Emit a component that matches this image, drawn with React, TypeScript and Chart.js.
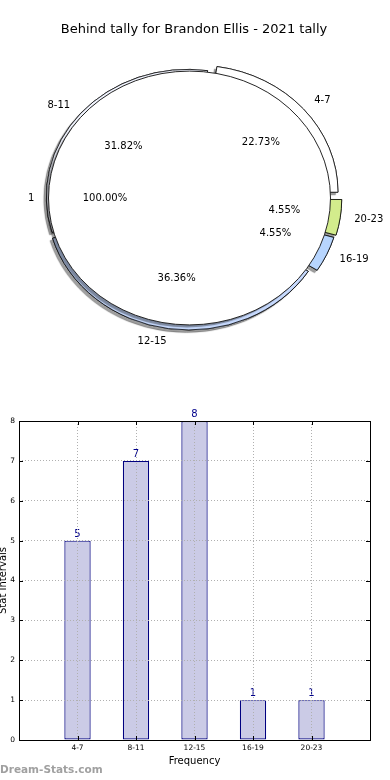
import React, { useEffect, useRef } from 'react';
import { Chart, registerables } from 'chart.js';

Chart.register(...registerables);

// ---- data ----
const chartTitle = 'Behind tally for Brandon Ellis - 2021 tally';
const categories = ['4-7', '8-11', '12-15', '16-19', '20-23'];
const frequencies = [5, 7, 8, 1, 1];
const overallLabels = ['1'];
const overallValues = [1];
const yTickValues = [0, 1, 2, 3, 4, 5, 6, 7, 8];
const xTickValues = [-1, 0, 1, 2, 3, 4, 5];

// ---- styles ----
const FONT = "'DejaVu Sans', 'Liberation Sans', sans-serif";
const sliceColors = ['#ffffff', '#f2f5ff', '#c6d9fd', '#b7d5fe', '#d3ec8c'];
const explode = [0.07, 0.02, 0.04, 0.07, 0.08];
const PIE_R = 141;
const PIE_SY = 0.9;

// matplotlib draws counter-clockwise from 3 o'clock; Chart.js clockwise -> reverse
const pieLabels = [...categories].reverse();
const pieValues = [...frequencies].reverse();
const pieColors = [...sliceColors].reverse();
const pieExplode = [...explode].reverse();
const pieTotal = pieValues.reduce((a, b) => a + b, 0);

const makeEllipsePlugin = (outline: boolean) => ({
  id: 'ellipse',
  beforeDatasetsDraw(chart: any) {
    const ctx = chart.ctx;
    const arcs = chart.getDatasetMeta(0).data;
    const cx = arcs[0].x;
    const cy = arcs[0].y;
    ctx.save();
    ctx.translate(cx, cy);
    ctx.scale(1, PIE_SY);
    ctx.translate(-cx, -cy);
    ctx.save();
    ctx.shadowColor = 'rgba(0,0,0,0.38)';
    ctx.shadowOffsetX = -2.5;
    ctx.shadowOffsetY = 2.5;
    ctx.shadowBlur = 1;
    arcs.forEach((el: any) => el.draw(ctx));
    ctx.restore();
  },
  afterDatasetsDraw(chart: any) {
    const ctx = chart.ctx;
    if (outline) {
      chart.getDatasetMeta(0).data.forEach((el: any) => {
        ctx.beginPath();
        ctx.arc(el.x, el.y, el.outerRadius, 0, Math.PI * 2);
        ctx.lineWidth = 0.9;
        ctx.strokeStyle = '#000';
        ctx.stroke();
      });
    }
    ctx.restore();
  },
});

export default function App() {
  const pieBaseRef = useRef<HTMLCanvasElement>(null);
  const pieTopRef = useRef<HTMLCanvasElement>(null);
  const barRef = useRef<HTMLCanvasElement>(null);

  useEffect(() => {
    const piePadding = { top: 57, bottom: 61, left: 48, right: 59 };

    const base = new Chart(pieBaseRef.current!, {
      type: 'pie',
      data: {
        labels: pieLabels,
        datasets: [
          {
            data: pieValues,
            backgroundColor: pieColors,
            borderColor: '#000',
            borderWidth: 0.8,
            clip: false,
            offset: (c: any) => {
              const i = c.dataIndex;
              if (i === undefined) return 0;
              const circ = (2 * Math.PI * pieValues[i]) / pieTotal;
              const fix = 1 - Math.sin(Math.min(Math.PI, circ));
              return (4 * pieExplode[i] * PIE_R) / (1 + fix);
            },
          } as any,
        ],
      },
      options: {
        animation: false,
        responsive: false,
        devicePixelRatio: 1,
        events: [],
        radius: PIE_R,
        rotation: 90,
        layout: { padding: piePadding },
        plugins: { legend: { display: false }, tooltip: { enabled: false } },
      } as any,
      plugins: [makeEllipsePlugin(false)],
    });

    const labelsPlugin = {
      id: 'pieLabels',
      afterDraw(chart: any) {
        const ctx = chart.ctx;
        ctx.save();
        ctx.fillStyle = '#000';
        ctx.font = `13px ${FONT}`;
        ctx.textAlign = 'center';
        ctx.textBaseline = 'middle';
        ctx.fillText(chartTitle, chart.width / 2 - 1, 30);

        ctx.font = `10px ${FONT}`;
        const put = (arc: any, label: string, value: number, total: number, ex: number) => {
          const mid = (arc.startAngle + arc.endAngle) / 2;
          const R = PIE_R;
          const e = ex * R;
          const c = Math.cos(mid);
          const s = Math.sin(mid);
          const d1 = 1.1 * R + e;
          ctx.textAlign = c > 0.0001 ? 'left' : 'right';
          ctx.fillText(label, arc.x + c * d1, arc.y + s * d1 * PIE_SY);
          const d2 = 0.6 * R + e;
          ctx.textAlign = 'center';
          ctx.fillText(((value / total) * 100).toFixed(2) + '%', arc.x + c * d2, arc.y + s * d2 * PIE_SY);
        };
        const baseArcs = base.getDatasetMeta(0).data;
        baseArcs.forEach((arc: any, i: number) => put(arc, pieLabels[i], pieValues[i], pieTotal, pieExplode[i]));
        const topArcs = chart.getDatasetMeta(0).data;
        const overallTotal = overallValues.reduce((a, b) => a + b, 0);
        topArcs.forEach((arc: any, i: number) => put(arc, overallLabels[i], overallValues[i], overallTotal, 0));
        ctx.restore();
      },
    };

    const top = new Chart(pieTopRef.current!, {
      type: 'pie',
      data: {
        labels: overallLabels,
        datasets: [
          {
            data: overallValues,
            backgroundColor: '#ffffff',
            borderWidth: 0,
            clip: false,
          } as any,
        ],
      },
      options: {
        animation: false,
        responsive: false,
        devicePixelRatio: 1,
        events: [],
        radius: PIE_R,
        rotation: 90,
        layout: { padding: piePadding },
        plugins: { legend: { display: false }, tooltip: { enabled: false } },
      } as any,
      plugins: [makeEllipsePlugin(true), labelsPlugin],
    });

    const barExtras = {
      id: 'barExtras',
      afterDatasetsDraw(chart: any) {
        const ctx = chart.ctx;
        ctx.save();
        ctx.fillStyle = '#00008b';
        ctx.font = `10px ${FONT}`;
        ctx.textAlign = 'center';
        ctx.textBaseline = 'alphabetic';
        chart.getDatasetMeta(0).data.forEach((bar: any, i: number) => {
          ctx.fillText(String(frequencies[i]), bar.x, bar.y - 4);
        });
        ctx.restore();
      },
      afterDraw(chart: any) {
        const ctx = chart.ctx;
        const a = chart.chartArea;
        ctx.save();
        ctx.strokeStyle = '#000';
        ctx.lineWidth = 1;
        ctx.beginPath();
        chart.scales.y.ticks.forEach((t: any) => {
          const y = Math.round(chart.scales.y.getPixelForValue(t.value)) + 0.5;
          ctx.moveTo(a.left, y);
          ctx.lineTo(a.left + 4, y);
          ctx.moveTo(a.right - 4, y);
          ctx.lineTo(a.right, y);
        });
        chart.scales.x.ticks.forEach((t: any) => {
          const x = Math.round(chart.scales.x.getPixelForValue(t.value)) + 0.5;
          ctx.moveTo(x, a.bottom);
          ctx.lineTo(x, a.bottom - 4);
          ctx.moveTo(x, a.top);
          ctx.lineTo(x, a.top + 4);
        });
        ctx.stroke();
        ctx.strokeRect(Math.round(a.left) + 0.5, Math.round(a.top) + 0.5, Math.round(a.right - a.left), Math.round(a.bottom - a.top));
        ctx.fillStyle = '#a0a0a0';
        ctx.font = `bold 10.5px ${FONT}`;
        ctx.textAlign = 'left';
        ctx.textBaseline = 'middle';
        ctx.fillText('Dream-Stats.com', 0, chart.height - 10);
        ctx.restore();
      },
    };

    const bar = new Chart(barRef.current!, {
      type: 'bar',
      data: {
        datasets: [
          {
            data: categories.map((c, i) => ({ x: i, y: frequencies[i] })),
            backgroundColor: '#cbcbe6',
            borderColor: '#000080',
            borderWidth: 1.2,
            borderSkipped: false,
            barPercentage: 0.45,
            categoryPercentage: 1,
          } as any,
        ],
      },
      options: {
        animation: false,
        responsive: false,
        devicePixelRatio: 1,
        events: [],
        layout: { padding: { top: 21, right: 20, left: 0, bottom: 0 } },
        plugins: { legend: { display: false }, tooltip: { enabled: false }, title: { display: false } },
        scales: {
          x: {
            type: 'linear',
            position: 'bottom',
            min: -1,
            max: 5,
            offset: false,
            afterBuildTicks: (s: any) => {
              s.ticks = xTickValues.map((v) => ({ value: v }));
            },
            ticks: {
              callback: (v: any) => categories[v] ?? '',
              font: { size: 7.5, family: FONT },
              color: '#000',
              padding: 4,
              autoSkip: false,
              maxRotation: 0,
            },
            grid: { color: '#b0b0b0', drawTicks: false, z: 1, offset: false },
            border: { display: false, dash: [1, 2] },
            title: {
              display: true,
              text: 'Frequency',
              font: { size: 10, family: FONT },
              color: '#000',
              padding: { top: 0, bottom: 13 },
            },
            afterFit: (s: any) => {
              s.height = 40;
            },
          },
          y: {
            type: 'linear',
            position: 'left',
            min: 0,
            max: 8,
            afterBuildTicks: (s: any) => {
              s.ticks = yTickValues.map((v) => ({ value: v }));
            },
            ticks: { font: { size: 7.5, family: FONT }, color: '#000', padding: 4 },
            grid: { color: '#b0b0b0', drawTicks: false, z: 1 },
            border: { display: false, dash: [1, 2] },
            title: {
              display: true,
              text: 'Stat Intervals',
              font: { size: 10, family: FONT },
              color: '#000',
              padding: { top: -2.5, bottom: 0 },
            },
            afterFit: (s: any) => {
              s.width = 19;
            },
          },
        },
      } as any,
      plugins: [barExtras],
    });

    return () => {
      top.destroy();
      base.destroy();
      bar.destroy();
    };
  }, []);

  return (
    <div style={{ position: 'absolute', left: 0, top: 0, width: 390, height: 780, background: '#fff', overflow: 'hidden' }}>
      <canvas ref={pieBaseRef} width={390} height={400} style={{ position: 'absolute', left: 0, top: 0, width: 390, height: 400 }} />
      <canvas ref={pieTopRef} width={390} height={400} style={{ position: 'absolute', left: 0, top: 0, width: 390, height: 400 }} />
      <canvas ref={barRef} width={390} height={380} style={{ position: 'absolute', left: 0, top: 400, width: 390, height: 380 }} />
    </div>
  );
}
